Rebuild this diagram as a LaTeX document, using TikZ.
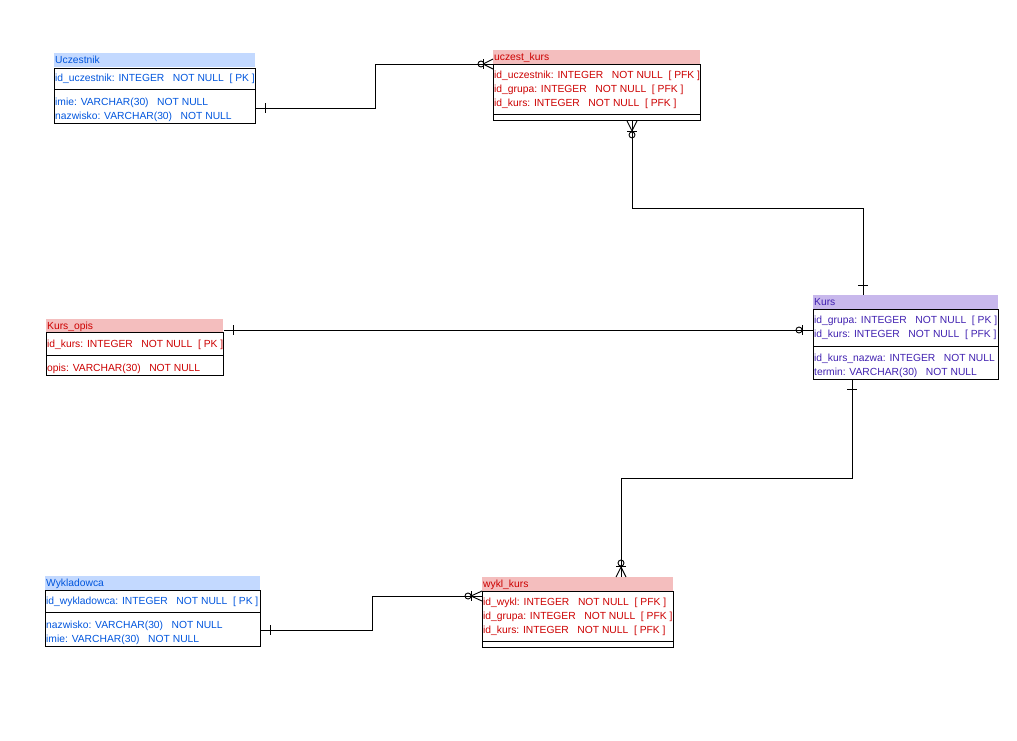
\documentclass[tikz,border=0pt]{standalone}
\usepackage{fontspec}
\setmainfont{Liberation Sans}
\definecolor{tblue}{RGB}{0,85,221}
\definecolor{tred}{RGB}{204,0,0}
\definecolor{tpurple}{RGB}{64,32,176}
\definecolor{hblue}{RGB}{195,217,255}
\definecolor{hpink}{RGB}{244,190,190}
\definecolor{hlav}{RGB}{200,184,236}
\begin{document}
\begin{tikzpicture}[x=1pt,y=-1pt,
  every node/.style={font=\fontsize{10.3}{12}\selectfont},
  hdr/.style={anchor=north west, inner xsep=1pt, inner ysep=0pt, minimum height=14pt, align=left, text height=8.5pt, text depth=1pt},
  body/.style={anchor=north west, draw=black, line width=0.9pt, inner sep=0pt},
  row/.style={anchor=west, inner sep=0pt, yshift=-1.5pt},
  conn/.style={line width=0.9pt, black},
  sep/.style={line width=0.9pt, black}]
\useasboundingbox (0,0) rectangle (1017,740);

% ---------- Uczestnik ----------
\node[hdr, fill=hblue, text=tblue, minimum width=201pt, text width=199pt] (uczh) at (54,53) {Uczestnik};
\node[body, minimum width=201pt, minimum height=55pt] (ucz) at (54,68) {};
\draw[sep] (ucz.west |- 0,89) -- (ucz.east |- 0,89);
\node[row, text=tblue] (ucz1) at (55,77) {id\_uczestnik: INTEGER~~~NOT NULL~~[ PK ]};
\node[row, text=tblue] (ucz2) at (55,101) {imie: VARCHAR(30)~~~NOT NULL};
\node[row, text=tblue] (ucz3) at (55,115) {nazwisko: VARCHAR(30)~~~NOT NULL};

% ---------- uczest_kurs ----------
\node[hdr, fill=hpink, text=tred, minimum width=207pt, text width=205pt] (ukh) at (493,50) {uczest\_kurs};
\node[body, minimum width=207pt, minimum height=56pt] (uk) at (493,64) {};
\draw[sep] (uk.west |- 0,114) -- (uk.east |- 0,114);
\node[row, text=tred] (uk1) at (494,74) {id\_uczestnik: INTEGER~~~NOT NULL~~[ PFK ]};
\node[row, text=tred] (uk2) at (494,88) {id\_grupa: INTEGER~~~NOT NULL~~[ PFK ]};
\node[row, text=tred] (uk3) at (494,102) {id\_kurs: INTEGER~~~NOT NULL~~[ PFK ]};

% ---------- Kurs_opis ----------
\node[hdr, fill=hpink, text=tred, minimum width=177pt, text width=175pt] (koh) at (46,319) {Kurs\_opis};
\node[body, minimum width=177pt, minimum height=43pt] (ko) at (46,332) {};
\draw[sep] (ko.west |- 0,355) -- (ko.east |- 0,355);
\node[row, text=tred] (ko1) at (47,343) {id\_kurs: INTEGER~~~NOT NULL~~[ PK ]};
\node[row, text=tred] (ko2) at (47,367) {opis: VARCHAR(30)~~~NOT NULL};

% ---------- Kurs ----------
\node[hdr, fill=hlav, text=tpurple, minimum width=185pt, text width=183pt] (kh) at (813,295) {Kurs};
\node[body, minimum width=185pt, minimum height=70pt] (k) at (813,309) {};
\draw[sep] (k.west |- 0,346) -- (k.east |- 0,346);
\node[row, text=tpurple] (k1) at (814,319) {id\_grupa: INTEGER~~~NOT NULL~~[ PK ]};
\node[row, text=tpurple] (k2) at (814,333) {id\_kurs: INTEGER~~~NOT NULL~~[ PFK ]};
\node[row, text=tpurple] (k3) at (814,357) {id\_kurs\_nazwa: INTEGER~~~NOT NULL};
\node[row, text=tpurple] (k4) at (814,371) {termin: VARCHAR(30)~~~NOT NULL};

% ---------- Wykladowca ----------
\node[hdr, fill=hblue, text=tblue, minimum width=215pt, text width=213pt] (wyh) at (45,576) {Wykladowca};
\node[body, minimum width=215pt, minimum height=56pt] (wy) at (45,590) {};
\draw[sep] (wy.west |- 0,612) -- (wy.east |- 0,612);
\node[row, text=tblue] (wy1) at (46,600) {id\_wykladowca: INTEGER~~~NOT NULL~~[ PK ]};
\node[row, text=tblue] (wy2) at (46,624) {nazwisko: VARCHAR(30)~~~NOT NULL};
\node[row, text=tblue] (wy3) at (46,638) {imie: VARCHAR(30)~~~NOT NULL};

% ---------- wykl_kurs ----------
\node[hdr, fill=hpink, text=tred, minimum width=191pt, text width=189pt] (wkh) at (482,577) {wykl\_kurs};
\node[body, minimum width=191pt, minimum height=56pt] (wk) at (482,591) {};
\draw[sep] (wk.west |- 0,641) -- (wk.east |- 0,641);
\node[row, text=tred] (wk1) at (483,601) {id\_wykl: INTEGER~~~NOT NULL~~[ PFK ]};
\node[row, text=tred] (wk2) at (483,615) {id\_grupa: INTEGER~~~NOT NULL~~[ PFK ]};
\node[row, text=tred] (wk3) at (483,629) {id\_kurs: INTEGER~~~NOT NULL~~[ PFK ]};

% ---------- attach points ----------
\coordinate (a1) at (ucz.east |- 0,108);
\coordinate (b1) at (uk.west |- 0,64);
\coordinate (a2) at (uk.south -| 632,0);
\coordinate (b2) at (kh.north -| 863,0);
\coordinate (a3) at (ko.east |- 0,330);
\coordinate (b3) at (k.west |- 0,330);
\coordinate (a4) at (k.south -| 852,0);
\coordinate (b4) at (wkh.north -| 621,0);
\coordinate (a5) at (wy.east |- 0,630);
\coordinate (b5) at (wk.west |- 0,596);

% ---------- connectors ----------
% Uczestnik -> uczest_kurs
\draw[conn] (a1) -- (375,108) -- (375,64) -- (b1);
\draw[conn] ([xshift=10pt]a1) ++(0,-5) -- ++(0,10);
\draw[conn] ([xshift=-10pt]b1) -- ([yshift=5pt]b1) ([xshift=-10pt]b1) -- ([yshift=-5pt]b1);
\draw[conn] ([xshift=-10pt]b1) ++(0,-5) -- ++(0,10);
\draw[conn] ([xshift=-12pt]b1) circle[radius=3pt];

% uczest_kurs -> Kurs
\draw[conn] (a2) -- (632,208) -- (863,208) -- (b2);
\draw[conn] ([yshift=10pt]b2) ++(-5,0) -- ++(10,0);
\draw[conn] ([yshift=-10pt]a2) -- ([xshift=-5pt]a2) ([yshift=-10pt]a2) -- ([xshift=5pt]a2);
\draw[conn] ([yshift=-11pt]a2) ++(-5,0) -- ++(10,0);
\draw[conn] ([yshift=-14pt]a2) circle[radius=3pt];

% Kurs_opis -> Kurs
\draw[conn] (a3) -- (b3);
\draw[conn] ([xshift=10pt]a3) ++(0,-5) -- ++(0,10);
\draw[conn] ([xshift=-11pt]b3) ++(0,-5) -- ++(0,10);
\draw[conn] ([xshift=-14pt]b3) circle[radius=3pt];

% Kurs -> wykl_kurs
\draw[conn] (a4) -- (852,478) -- (621,478) -- (b4);
\draw[conn] ([yshift=-10pt]a4) ++(-5,0) -- ++(10,0);
\draw[conn] ([yshift=10pt]b4) -- ([xshift=-5pt]b4) ([yshift=10pt]b4) -- ([xshift=5pt]b4);
\draw[conn] ([yshift=11pt]b4) ++(-5,0) -- ++(10,0);
\draw[conn] ([yshift=14pt]b4) circle[radius=3pt];

% Wykladowca -> wykl_kurs
\draw[conn] (a5) -- (372,630) -- (372,596) -- (b5);
\draw[conn] ([xshift=10pt]a5) ++(0,-5) -- ++(0,10);
\draw[conn] ([xshift=-11pt]b5) -- ([yshift=5pt]b5) ([xshift=-11pt]b5) -- ([yshift=-5pt]b5);
\draw[conn] ([xshift=-11pt]b5) ++(0,-5) -- ++(0,10);
\draw[conn] ([xshift=-14pt]b5) circle[radius=3pt];
\end{tikzpicture}
\end{document}
